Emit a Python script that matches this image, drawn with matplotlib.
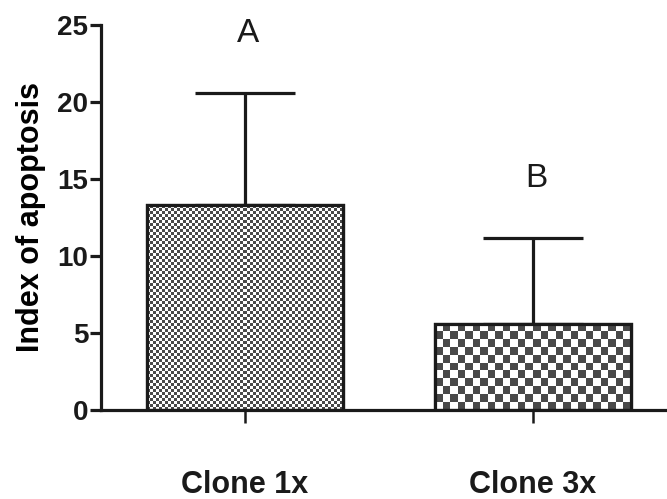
import numpy as np
import matplotlib
matplotlib.use("Agg")
import matplotlib.pyplot as plt

categories = ["Clone 1x", "Clone 3x"]
means = [13.3, 5.6]
errors = [7.3, 5.6]
letters = ["A", "B"]
yticks = [0, 5, 10, 15, 20, 25]

plt.rcParams['font.family'] = ['Liberation Sans', 'DejaVu Sans']

fig = plt.figure(figsize=(6.67, 4.99), dpi=100)
ax = fig.add_axes([101/667, 1-410/499, 1-101/667, (410-25)/499])

x = np.arange(len(categories))
width = 0.68
lw = 2.3

ax.errorbar(x, means, yerr=[np.zeros(len(means)), errors], fmt='none',
            ecolor='#1a1a1a', elinewidth=lw, capsize=36, capthick=lw, zorder=1)
bars = ax.bar(x, means, width=width, color='white', edgecolor='#1a1a1a',
              linewidth=lw, zorder=2)

# checkerboard textures
cell_px = [3, 7.5]
ax.set_xlim(-0.5, 1.465)
ax.set_ylim(0, 25)
fig.canvas.draw()
for b, c in zip(bars, cell_px):
    x0, y0 = b.get_x(), b.get_y()
    w, h = b.get_width(), b.get_height()
    p0 = ax.transData.transform((x0, y0))
    p1 = ax.transData.transform((x0 + w, y0 + h))
    nx = max(1, int(round((p1[0] - p0[0]) / c)))
    ny = max(1, int(round((p1[1] - p0[1]) / c)))
    ii, jj = np.meshgrid(np.arange(nx), np.arange(ny))
    board = ((ii + jj) % 2).astype(float)
    im = ax.imshow(board, cmap='gray_r', vmin=0, vmax=1.4, extent=(x0, x0 + w, y0, y0 + h),
                   interpolation='nearest', aspect='auto', zorder=2.5)
    im.set_clip_path(b)
    edge = plt.Rectangle((x0, y0), w, h, fill=False, edgecolor='#1a1a1a',
                         linewidth=lw, zorder=3)
    ax.add_patch(edge)

for xi, m, e, t in zip(x, means, errors, letters):
    ax.text(xi + 0.01, m + e + 3.3, t, ha='center', va='baseline', fontsize=24, color='#1a1a1a')

ax.set_xticks(x)
ax.set_xticklabels(categories, fontsize=22, fontweight='bold')
ax.set_yticks(yticks)
ax.set_yticklabels([str(v) for v in yticks], fontsize=20, fontweight='bold')
ax.set_ylabel("Index of apoptosis", fontsize=22, fontweight='bold', labelpad=8)

for s in ['top', 'right']:
    ax.spines[s].set_visible(False)
for s in ['left', 'bottom']:
    ax.spines[s].set_linewidth(lw)
    ax.spines[s].set_color('#1a1a1a')
ax.tick_params(axis='y', length=8, width=lw, pad=1, colors='#1a1a1a')
ax.tick_params(axis='x', length=9, width=1.8, pad=34, colors='#1a1a1a')

fig.savefig("out.png", dpi=100)
